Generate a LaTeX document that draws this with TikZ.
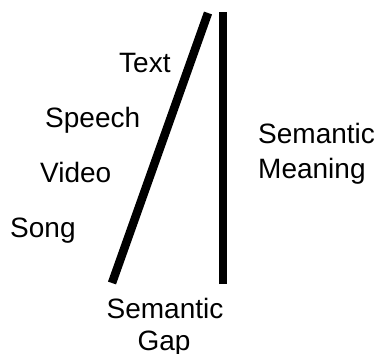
\documentclass[tikz,border=0pt]{standalone}
\usepackage{fontspec}
\setmainfont{Liberation Sans}
\begin{document}
\begin{tikzpicture}[x=1pt,y=-1pt,
  lbl/.style={inner sep=0pt,font=\fontsize{28}{35}\selectfont},
  bar/.style={line width=8.5pt,black}]
\useasboundingbox (0,0) rectangle (379,353);
\node[lbl,anchor=base west] (text) at (119,72) {Text};
\node[lbl,anchor=base west] (speech) at (45,127) {Speech};
\node[lbl,anchor=base west] (video) at (40,182) {Video};
\node[lbl,anchor=base west] (song) at (10,237) {Song};
\node[lbl,anchor=base west] (sem1) at (258,143) {Semantic};
\node[lbl,anchor=base west] (mean) at (258,178) {Meaning};
\node[lbl,anchor=base] (sem2) at (165,318) {Semantic};
\node[lbl,anchor=base] (gap) at (164,350) {Gap};
\coordinate (d1) at (112,283);
\coordinate (d2) at (208,13);
\coordinate (v1) at (223,284);
\coordinate (v2) at (223,12);
\draw[bar] (d1) -- (d2);
\draw[bar] (v1) -- (v2);
\end{tikzpicture}
\end{document}
